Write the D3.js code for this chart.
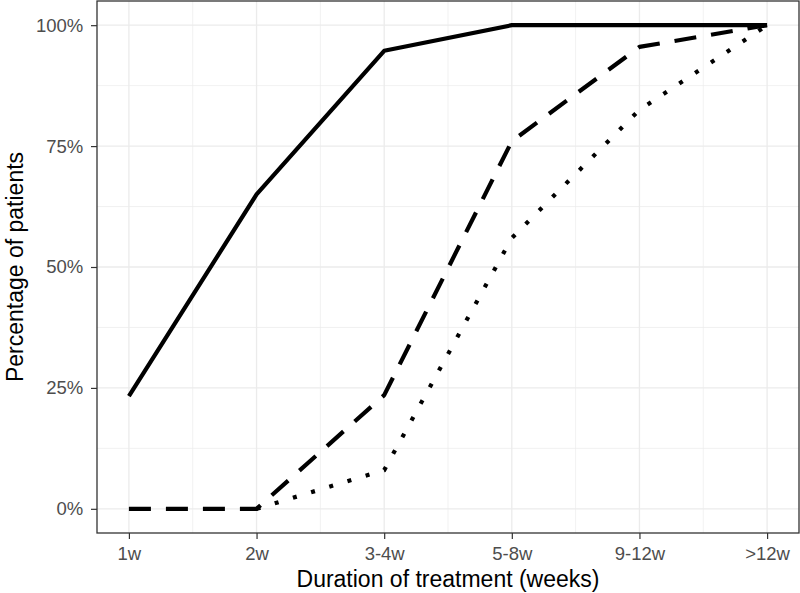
<!DOCTYPE html>
<html>
<head>
<meta charset="utf-8">
<script src="https://cdn.jsdelivr.net/npm/d3@7"></script>
<style>
  body { margin: 0; background: #fff; }
  text { font-family: "Liberation Sans", Arial, sans-serif; }
</style>
</head>
<body>
<div id="chart"></div>
<script>
// durations and cumulative percentage of patients per group
const categories = ["1w", "2w", "3-4w", "5-8w", "9-12w", ">12w"];
const solidVals  = [23.3, 65, 94.7, 100, 100, 100];
const dashedVals = [0, 0, 23.5, 76, 95.5, 100];
const dottedVals = [null, 0, 8, 56, 82.5, 100];
const yTicks = [0, 25, 50, 75, 100];

const width = 800, height = 593;
const margin = { top: 1, right: 1, bottom: 60, left: 97 };

const svg = d3.select("#chart").append("svg")
  .attr("width", width)
  .attr("height", height);

const x = d3.scaleLinear()
  .domain([-0.25, categories.length - 0.75])
  .range([margin.left, width - margin.right]);

const y = d3.scaleLinear()
  .domain([-5, 105])
  .range([height - margin.bottom, margin.top]);

// grid, minor first
const grid = svg.append("g");
const minorX = d3.range(0.5, categories.length - 1, 1);
const minorY = [12.5, 37.5, 62.5, 87.5];

grid.selectAll(".mx").data(minorX).enter().append("line")
  .attr("x1", d => x(d)).attr("x2", d => x(d))
  .attr("y1", y.range()[0]).attr("y2", y.range()[1])
  .attr("stroke", "#ebebeb").attr("stroke-width", 0.7);
grid.selectAll(".my").data(minorY).enter().append("line")
  .attr("x1", x.range()[0]).attr("x2", x.range()[1])
  .attr("y1", d => y(d)).attr("y2", d => y(d))
  .attr("stroke", "#ebebeb").attr("stroke-width", 0.7);
grid.selectAll(".gx").data(categories.map((c, i) => i)).enter().append("line")
  .attr("x1", d => x(d)).attr("x2", d => x(d))
  .attr("y1", y.range()[0]).attr("y2", y.range()[1])
  .attr("stroke", "#ebebeb").attr("stroke-width", 1.3);
grid.selectAll(".gy").data(yTicks).enter().append("line")
  .attr("x1", x.range()[0]).attr("x2", x.range()[1])
  .attr("y1", d => y(d)).attr("y2", d => y(d))
  .attr("stroke", "#ebebeb").attr("stroke-width", 1.3);

// lines
const line = d3.line()
  .defined(d => d != null)
  .x((d, i) => x(i))
  .y(d => y(d));

const series = [
  { vals: solidVals, dash: null },
  { vals: dashedVals, dash: "22,15" },
  { vals: dottedVals, dash: "4,15" }
];

series.forEach(s => {
  svg.append("path")
    .attr("d", line(s.vals))
    .attr("fill", "none")
    .attr("stroke", "#000")
    .attr("stroke-width", 4.2)
    .attr("stroke-linejoin", "round")
    .attr("stroke-dasharray", s.dash);
});

// panel border
svg.append("rect")
  .attr("x", x.range()[0]).attr("y", y.range()[1])
  .attr("width", x.range()[1] - x.range()[0])
  .attr("height", y.range()[0] - y.range()[1])
  .attr("fill", "none")
  .attr("stroke", "#333").attr("stroke-width", 1.3);

// axes
const xAxis = svg.append("g")
  .attr("transform", `translate(0,${y.range()[0]})`)
  .call(d3.axisBottom(x).tickValues(categories.map((c, i) => i))
    .tickFormat(i => categories[i]).tickSize(6).tickPadding(8));
xAxis.select(".domain").remove();
xAxis.selectAll("line").attr("stroke", "#333").attr("stroke-width", 1.2);
xAxis.selectAll("text").attr("fill", "#4d4d4d").style("font-size", "18.5px");

const yAxis = svg.append("g")
  .attr("transform", `translate(${x.range()[0]},0)`)
  .call(d3.axisLeft(y).tickValues(yTicks).tickFormat(d => d + "%")
    .tickSize(6).tickPadding(7.7));
yAxis.select(".domain").remove();
yAxis.selectAll("line").attr("stroke", "#333").attr("stroke-width", 1.2);
yAxis.selectAll("text").attr("fill", "#4d4d4d").style("font-size", "18.5px");

// axis titles
svg.append("text")
  .attr("x", (x.range()[0] + x.range()[1]) / 2)
  .attr("y", 586.5)
  .attr("text-anchor", "middle")
  .style("font-size", "23px")
  .attr("fill", "#000")
  .text("Duration of treatment (weeks)");

svg.append("text")
  .attr("transform", `translate(23,${(y.range()[0] + y.range()[1]) / 2}) rotate(-90)`)
  .attr("text-anchor", "middle")
  .style("font-size", "23px")
  .attr("fill", "#000")
  .text("Percentage of patients");
</script>
</body>
</html>
